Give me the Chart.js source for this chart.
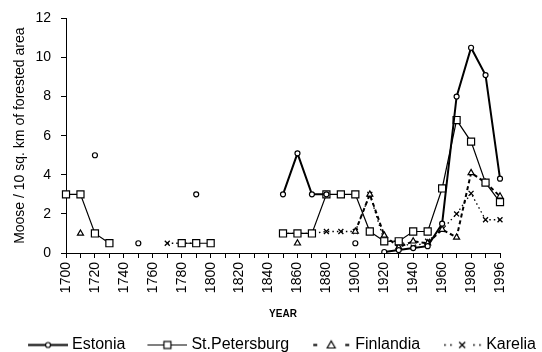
<!DOCTYPE html>
<html>
<head>
<meta charset="utf-8">
<script src="https://cdn.jsdelivr.net/npm/chart.js@4.4.0/dist/chart.umd.min.js"></script>
<style>
  html, body { margin: 0; padding: 0; background: #fff; }
</style>
</head>
<body>
<canvas id="chart1" width="542" height="352"></canvas>
<script>
// years on the x axis (one category per decade, last one is 1996)
const years = ['1700','1710','1720','1730','1740','1750','1760','1770','1780','1790',
               '1800','1810','1820','1830','1840','1850','1860','1870','1880','1890',
               '1900','1910','1920','1930','1940','1950','1960','1970','1980','1990','1996'];

// moose per 10 sq. km of forested area
const estonia = [null, null, 5.0, null, null, 0.5, null, null, null, 3.0,
                 null, null, null, null, null, 3.0, 5.1, 3.0, 3.0, null,
                 0.5, null, 0.05, 0.15, 0.25, 0.35, 1.5, 8.0, 10.5, 9.1, 3.8];
const stPetersburg = [3.0, 3.0, 1.0, 0.5, null, null, null, null, 0.5, 0.5,
                      0.5, null, null, null, null, 1.0, 1.0, 1.0, 3.0, 3.0,
                      3.0, 1.1, 0.6, 0.6, 1.1, 1.1, 3.3, 6.8, 5.7, 3.6, 2.6];
const finlandia = [null, 1.0, null, null, null, null, null, null, null, null,
                   null, null, null, null, null, null, 0.5, null, null, null,
                   1.1, 3.0, 0.9, 0.3, 0.6, 0.5, 1.2, 0.8, 4.1, 3.6, 2.9];
const karelia = [null, null, null, null, null, null, null, 0.5, 0.5, 0.5,
                 null, null, null, null, null, 1.0, 1.0, 1.0, 1.1, 1.1,
                 1.1, 3.0, 0.6, 0.6, 0.3, 0.6, 1.2, 2.0, 3.05, 1.7, 1.7];

const yTicks = [0, 2, 4, 6, 8, 10, 12];

Chart.defaults.font.family = "'Liberation Sans', Arial, sans-serif";
Chart.defaults.color = '#000';

// little line+marker pictures for the legend (a bit wider than the box so
// the symbol sits close to its text)
const symW = 66;
function legendSymbol(kind) {
    const c = document.createElement('canvas');
    c.width = symW;
    c.height = 13;
    const g = c.getContext('2d');
    const x1 = symW, x0 = x1 - 40, y = 6.5, mid = x0 + 20;
    g.strokeStyle = '#000';
    g.fillStyle = '#fff';
    if (kind === 'estonia') {
        g.lineWidth = 2;
        g.beginPath(); g.moveTo(x0, y); g.lineTo(x1, y); g.stroke();
        g.lineWidth = 1.2;
        g.beginPath(); g.arc(mid, y, 2.5, 0, Math.PI * 2); g.fill(); g.stroke();
    } else if (kind === 'stp') {
        g.lineWidth = 1.2;
        g.beginPath(); g.moveTo(x0, y); g.lineTo(x1, y); g.stroke();
        g.fillRect(mid - 3.5, y - 3.5, 7, 7);
        g.strokeRect(mid - 3.5, y - 3.5, 7, 7);
    } else if (kind === 'fin') {
        g.lineWidth = 2;
        g.beginPath();
        g.moveTo(x0 + 2, y); g.lineTo(x0 + 6, y);
        g.moveTo(x1 - 6, y); g.lineTo(x1 - 2, y);
        g.stroke();
        g.lineWidth = 1.2;
        g.beginPath();
        g.moveTo(mid, y - 4); g.lineTo(mid + 4, y + 3); g.lineTo(mid - 4, y + 3); g.closePath();
        g.fill(); g.stroke();
    } else {
        g.fillStyle = '#000';
        [x0 + 2, x0 + 8, x1 - 9, x1 - 3].forEach(px => g.fillRect(px, y - 0.8, 1.6, 1.6));
        g.lineWidth = 1.3;
        g.beginPath();
        g.moveTo(mid - 3, y - 3); g.lineTo(mid + 3, y + 3);
        g.moveTo(mid + 3, y - 3); g.lineTo(mid - 3, y + 3);
        g.stroke();
    }
    return c;
}
const symbols = [legendSymbol('estonia'), legendSymbol('stp'), legendSymbol('fin'), legendSymbol('kar')];

const configuration = {
    type: 'line',
    data: {
        labels: years,
        datasets: [
            {
                label: 'Estonia',
                data: estonia,
                borderColor: '#000',
                borderWidth: 2,
                pointStyle: 'circle',
                pointRadius: 2.5,
                pointBorderWidth: 1.2,
                pointBackgroundColor: '#fff',
                pointBorderColor: '#000'
            },
            {
                label: 'St.Petersburg',
                data: stPetersburg,
                borderColor: '#000',
                borderWidth: 1.2,
                pointStyle: 'rect',
                pointRadius: 5,
                pointBorderWidth: 1.2,
                pointBackgroundColor: '#fff',
                pointBorderColor: '#000'
            },
            {
                label: 'Finlandia',
                data: finlandia,
                borderColor: '#000',
                borderWidth: 2,
                borderDash: [4, 3],
                pointStyle: 'triangle',
                pointRadius: 3.5,
                pointBorderWidth: 1.2,
                pointBackgroundColor: '#fff',
                pointBorderColor: '#000'
            },
            {
                label: 'Karelia',
                data: karelia,
                borderColor: '#000',
                borderWidth: 1.3,
                borderDash: [1.5, 3],
                pointStyle: 'crossRot',
                pointRadius: 3.5,
                pointBorderWidth: 1.3,
                pointBorderColor: '#000'
            }
        ]
    },
    options: {
        responsive: false,
        animation: false,
        layout: {
            padding: { top: 15, right: 0, bottom: -11, left: 0 }
        },
        scales: {
            x: {
                type: 'category',
                offset: false,
                afterFit: (scale) => { scale.height = 84; },
                border: { display: true, color: '#000', width: 1 },
                grid: {
                    display: true,
                    drawOnChartArea: false,
                    drawTicks: true,
                    tickLength: 5,
                    tickColor: '#000'
                },
                ticks: {
                    autoSkip: false,
                    minRotation: 90,
                    maxRotation: 90,
                    padding: 4,
                    font: { size: 14 },
                    color: '#000',
                    callback: function (value, index) {
                        return index % 2 === 0 ? years[index] : '';
                    }
                },
                title: {
                    display: true,
                    text: 'YEAR',
                    font: { size: 10, weight: 'bold' },
                    color: '#000',
                    padding: { top: 0, bottom: 17 }
                }
            },
            y: {
                min: yTicks[0],
                max: yTicks[yTicks.length - 1],
                afterFit: (scale) => { scale.width = 66; },
                border: { display: true, color: '#000', width: 1 },
                grid: {
                    display: true,
                    drawOnChartArea: false,
                    drawTicks: true,
                    tickLength: 5,
                    tickColor: '#000'
                },
                ticks: {
                    stepSize: 2,
                    padding: 10,
                    font: { size: 14 },
                    color: '#000'
                },
                title: {
                    display: true,
                    text: 'Moose / 10 sq. km of forested area',
                    font: { size: 14 },
                    color: '#000',
                    padding: { top: 12, bottom: 0 }
                }
            },
            // empty right-hand axis that only reserves the right margin
            yRight: {
                position: 'right',
                display: true,
                afterFit: (scale) => { scale.width = 42; },
                border: { display: false },
                grid: { display: false, drawTicks: false },
                ticks: { display: false }
            }
        },
        plugins: {
            tooltip: { enabled: false },
            legend: {
                display: true,
                position: 'bottom',
                labels: {
                    usePointStyle: true,
                    pointStyleWidth: 58,
                    padding: 0,
                    font: { size: 16 },
                    color: '#000',
                    generateLabels: function (chart) {
                        const items = Chart.defaults.plugins.legend.labels.generateLabels(chart);
                        items.forEach((it, i) => { it.pointStyle = symbols[i]; it.rotation = 0; });
                        return items;
                    }
                }
            }
        }
    }
};

const contexte = document.querySelector('#chart1').getContext('2d');
let graphique = new Chart(contexte, configuration);
</script>
</body>
</html>
